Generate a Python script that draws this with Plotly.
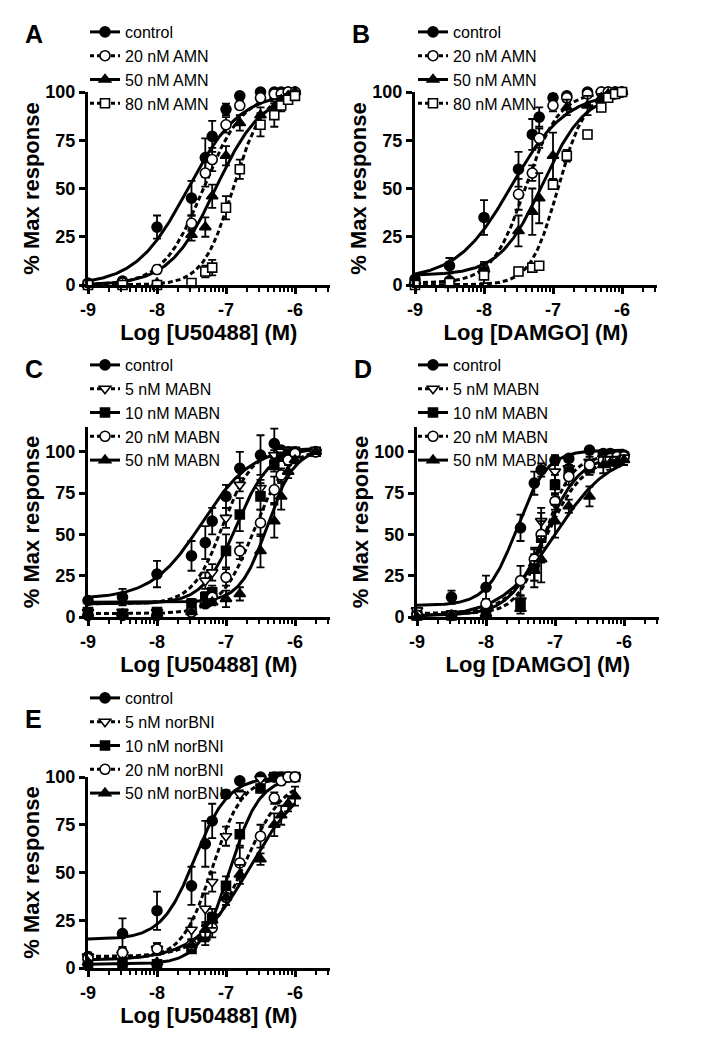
import numpy as np
import plotly.graph_objects as go

FONT = "Liberation Sans, Arial, Helvetica, sans-serif"

# log molar doses shared by all panels (None = no point at that dose)
DOSES = [-9, -8.5, -8, -7.5, -7.3, -7.2, -7, -6.8, -6.5, -6.3, -6.2, -6.1, -6, -5.7]

# ---- panel A : U50488 + AMN
A_NAMES = ["control", "20 nM AMN", "50 nM AMN", "80 nM AMN"]
A_MEAN = [
    [1, 2, 30, 45, 66, 77, 91, 98, 100, 100, 100, 100, 100, None],
    [0, 1, 8, 32, 58, 65, 83, 93, 97, 99, 99, 100, 100, None],
    [0, 0, 1, 26, 30, 46, 67, 84, 88, 92, 96, 98, 100, None],
    [0, 0, 0, 1, 7, 9, 40, 60, 83, 88, 93, 96, 98, None],
]
A_SEM = [
    [1, 1, 6, 9, 10, 8, 3, 2, 1, 1, 1, 1, 1, None],
    [1, 1, 2, 4, 7, 6, 4, 2, 2, 1, 1, 1, 1, None],
    [1, 1, 1, 3, 5, 6, 5, 4, 4, 3, 2, 1, 1, None],
    [1, 1, 1, 1, 3, 4, 6, 5, 6, 6, 3, 2, 2, None],
]
# bottom, top, logEC50, hill slope
A_FIT = [(0, 100, -7.55, 1.15), (0, 100, -7.33, 1.5), (0, 100, -7.15, 1.3), (0, 100, -6.9, 2.0)]

# ---- panel B : DAMGO + AMN
B_NAMES = ["control", "20 nM AMN", "50 nM AMN", "80 nM AMN"]
B_MEAN = [
    [3, 10, 35, 60, 78, 87, 97, 98, 100, 100, 100, 100, 100, None],
    [1, 2, 8, 47, 58, 76, 93, 97, 99, 100, 100, 100, 100, None],
    [2, 3, 8, 28, 38, 45, 67, 92, 93, 97, 99, 100, 100, None],
    [0, 1, 5, 7, 9, 10, 52, 67, 78, 92, 97, 99, 100, None],
]
B_SEM = [
    [1, 4, 9, 9, 8, 5, 2, 1, 1, 1, 1, 1, 1, None],
    [1, 1, 4, 8, 4, 5, 3, 2, 1, 1, 1, 1, 1, None],
    [1, 1, 3, 8, 12, 13, 12, 4, 5, 2, 1, 1, 1, None],
    [1, 1, 4, 2, 2, 2, 2, 3, 2, 2, 1, 1, 1, None],
]
B_FIT = [(3, 100, -7.6, 1.1), (1, 100, -7.4, 1.8), (5, 100, -7.15, 1.4), (0, 100, -6.93, 2.2)]

# ---- panel C : U50488 + MABN
C_NAMES = ["control", "5 nM MABN", "10 nM MABN", "20 nM MABN", "50 nM MABN"]
C_MEAN = [
    [10, 12, 26, 37, 45, 58, 73, 90, 98, 105, 101, 100, 100, 100],
    [3, 3, 3, 8, 22, 27, 60, 80, 78, 98, 100, 101, 100, 100],
    [3, 2, 3, 8, 12, 15, 40, 62, 73, 92, 97, 99, 100, 100],
    [1, 1, 1, 3, 8, 12, 24, 40, 57, 77, 86, 95, 99, 100],
    [2, 2, 2, 3, 8, 9, 11, 14, 40, 58, 73, 88, 95, 100],
]
C_SEM = [
    [2, 5, 8, 9, 10, 8, 7, 10, 12, 9, 2, 2, 2, 2],
    [1, 1, 1, 3, 5, 5, 6, 4, 5, 3, 2, 1, 1, 1],
    [1, 1, 1, 3, 3, 4, 10, 10, 8, 4, 2, 1, 1, 1],
    [1, 1, 1, 1, 2, 3, 5, 5, 8, 8, 4, 2, 1, 1],
    [1, 1, 1, 1, 2, 2, 5, 4, 10, 10, 8, 4, 2, 1],
]
C_FIT = [(11, 103, -7.35, 1.2), (8, 102, -7.05, 2.0), (8, 102, -6.85, 1.8),
         (2, 102, -6.6, 1.8), (9, 102, -6.4, 2.2)]

# ---- panel D : DAMGO + MABN
D_NAMES = ["control", "5 nM MABN", "10 nM MABN", "20 nM MABN", "50 nM MABN"]
D_MEAN = [
    [2, 12, 18, 54, 81, 89, 95, 96, 101, 99, 99, 98, 98, None],
    [4, 2, 3, 10, 30, 58, 88, 90, 94, 96, 97, 97, 97, None],
    [1, 1, 2, 8, 30, 48, 80, 88, 90, 95, 96, 96, 97, None],
    [1, 1, 8, 22, 35, 50, 70, 85, 92, 95, 96, 97, 97, None],
    [0, 1, 2, 5, 28, 35, 58, 67, 73, 92, 93, 94, 95, None],
]
D_SEM = [
    [1, 4, 7, 8, 7, 4, 3, 2, 1, 2, 2, 2, 2, None],
    [1, 1, 1, 3, 8, 8, 5, 4, 3, 3, 2, 2, 2, None],
    [1, 1, 1, 3, 12, 15, 6, 4, 4, 3, 2, 2, 2, None],
    [1, 1, 3, 9, 6, 8, 5, 5, 3, 3, 2, 2, 2, None],
    [1, 1, 1, 3, 6, 14, 10, 4, 6, 5, 4, 3, 3, None],
]
D_FIT = [(7, 101, -7.55, 2.0), (2, 98, -7.15, 2.2), (1, 98, -7.15, 1.7),
         (2, 97, -7.12, 1.6), (0, 100, -7.0, 1.1)]

# ---- panel E : U50488 + norBNI
E_NAMES = ["control", "5 nM norBNI", "10 nM norBNI", "20 nM norBNI", "50 nM norBNI"]
E_MEAN = [
    [6, 18, 30, 43, 65, 77, 91, 98, 100, 100, 100, 100, 100, None],
    [6, 7, 10, 20, 31, 45, 69, 91, 99, 100, 100, 100, 100, None],
    [2, 2, 2, 10, 17, 26, 43, 70, 94, 100, 100, 100, 100, None],
    [5, 8, 10, 12, 18, 21, 37, 55, 69, 89, 98, 100, 100, None],
    [3, 3, 3, 12, 20, 25, 37, 49, 57, 75, 80, 86, 90, None],
]
E_SEM = [
    [2, 8, 10, 10, 12, 9, 2, 1, 1, 1, 1, 1, 1, None],
    [2, 3, 3, 6, 8, 5, 5, 2, 1, 1, 1, 1, 1, None],
    [1, 1, 1, 2, 5, 5, 5, 6, 2, 1, 1, 1, 1, None],
    [2, 3, 3, 3, 4, 5, 4, 8, 6, 3, 2, 1, 1, None],
    [1, 1, 1, 3, 4, 4, 4, 5, 3, 6, 5, 4, 5, None],
]
E_FIT = [(15, 100, -7.45, 1.8), (5, 100, -7.2, 2.0), (2, 100, -6.95, 2.0),
         (6, 100, -6.75, 1.5), (4, 102, -6.65, 1.1)]

# symbol, filled?, dashed?
STYLE_AMN = [("circle", True, False), ("circle", False, True),
             ("triangle-up", True, False), ("square", False, True)]
STYLE_5 = [("circle", True, False), ("triangle-down", False, True), ("square", True, False),
           ("circle", False, True), ("triangle-up", True, False)]


def hill(x, bottom, top, ec50, slope):
    return bottom + (top - bottom) / (1 + 10 ** ((ec50 - x) * slope))


# page body has an 8px margin, so the figure is drawn 8px smaller and positions shifted
OFF = 8
W, H = 725 - OFF, 1050 - OFF


def fx(p):
    return (p - OFF) / W


def fy(p):
    return 1 - (p - OFF) / H


panels = [
    # letter, axis suffix, names, mean, sem, fit, styles, xtitle, ymax, x px, y px (0, top), legend top, legend x
    ("A", "", A_NAMES, A_MEAN, A_SEM, A_FIT, STYLE_AMN, "Log [U50488] (M)", 100, 88, 285, 92, 15, 85),
    ("B", "2", B_NAMES, B_MEAN, B_SEM, B_FIT, STYLE_AMN, "Log [DAMGO] (M)", 100, 415, 285, 92, 15, 413),
    ("C", "3", C_NAMES, C_MEAN, C_SEM, C_FIT, STYLE_5, "Log [U50488] (M)", 115, 88, 617, 427, 348, 85),
    ("D", "4", D_NAMES, D_MEAN, D_SEM, D_FIT, STYLE_5, "Log [DAMGO] (M)", 115, 417, 617, 427, 348, 413),
    ("E", "5", E_NAMES, E_MEAN, E_SEM, E_FIT, STYLE_5, "Log [U50488] (M)", 100, 88, 968, 777, 681, 85),
]

minor_vals = [d + np.log10(k) for d in range(-9, -5) for k in range(2, 10)]
minor_vals = [v for v in minor_vals if v < -5.45]

fig = go.Figure()
layout = {}
annotations = []
for letter, sfx, names, means, sems, fits, styles, xtitle, ymax, x0, y0, y1, ltop, lx in panels:
    xa, ya = "x" + sfx, "y" + sfx
    leg = "legend" + sfx
    last = max(d for d, v in zip(DOSES, means[0]) if v is not None)
    xs = np.linspace(-9, last, 200)
    for name, mean, sem, fit, (sym, filled, dashed) in zip(names, means, sems, fits, styles):
        dash = "5px,3px" if dashed else "solid"
        fig.add_trace(go.Scatter(x=xs, y=hill(xs, *fit), mode="lines", xaxis=xa, yaxis=ya,
                                 line=dict(color="black", width=3, dash=dash),
                                 showlegend=False, cliponaxis=False, hoverinfo="skip"))
    for name, mean, sem, fit, (sym, filled, dashed) in zip(names, means, sems, fits, styles):
        px = [d for d, v in zip(DOSES, mean) if v is not None]
        py = [v for v in mean if v is not None]
        pe = [e for e in sem if e is not None]
        mk = dict(symbol=sym, size=10 if sym != "square" else 9,
                  color="black" if filled else "white",
                  line=dict(color="black", width=1.6))
        fig.add_trace(go.Scatter(x=px, y=py, mode="markers", xaxis=xa, yaxis=ya, marker=mk,
                                 error_y=dict(type="data", array=pe, color="black",
                                              thickness=1.8, width=4),
                                 showlegend=False, cliponaxis=False))
        dash = "4px,3px" if dashed else "solid"
        fig.add_trace(go.Scatter(x=[None], y=[None], mode="lines+markers", name=name,
                                 xaxis=xa, yaxis=ya, legend=leg, marker=mk,
                                 line=dict(color="black", width=3, dash=dash)))

    x1 = x0 + 3.5 * 69
    layout["xaxis" + sfx] = dict(
        domain=[fx(x0), fx(x1)], anchor=ya, range=[-9, -5.5], showline=True, linewidth=3,
        linecolor="black", ticks="outside", ticklen=6, tickwidth=2.5, tickcolor="black",
        tickvals=[-9, -8, -7, -6], ticktext=["-9", "-8", "-7", "-6"], showgrid=False,
        zeroline=False, tickfont=dict(family=FONT, size=18, color="black", weight="bold"),
        minor=dict(tickvals=minor_vals, ticks="outside", ticklen=4, tickwidth=2,
                   tickcolor="black", showgrid=False),
        title=dict(text=xtitle, font=dict(family=FONT, size=22, color="black", weight="bold"),
                   standoff=0))
    layout["yaxis" + sfx] = dict(
        domain=[fy(y0), fy(y1)], anchor=xa, range=[0, ymax], showline=True,
        linewidth=3, linecolor="black", ticks="outside", ticklen=6, tickwidth=2.5,
        tickcolor="black", tickvals=[0, 25, 50, 75, 100], showgrid=False, zeroline=False,
        tickfont=dict(family=FONT, size=18, color="black", weight="bold"),
        title=dict(text="% Max response",
                   font=dict(family=FONT, size=22, color="black", weight="bold"), standoff=0))
    layout[leg] = dict(x=fx(lx), y=fy(ltop), xanchor="left", yanchor="top",
                       bgcolor="rgba(0,0,0,0)", tracegroupgap=0, itemwidth=30,
                       font=dict(family=FONT, size=16, color="black"))
    annotations.append(dict(text=letter, x=fx(x0 - 54), y=fy(y1 - 58), xref="paper",
                            yref="paper", xanchor="center", yanchor="middle", showarrow=False,
                            font=dict(family=FONT, size=25, color="black", weight="bold")))

fig.update_layout(width=W, height=H, margin=dict(l=0, r=0, t=0, b=0, autoexpand=False),
                  plot_bgcolor="white", paper_bgcolor="white", showlegend=True,
                  annotations=annotations, **layout)
fig.write_html("out.html")
